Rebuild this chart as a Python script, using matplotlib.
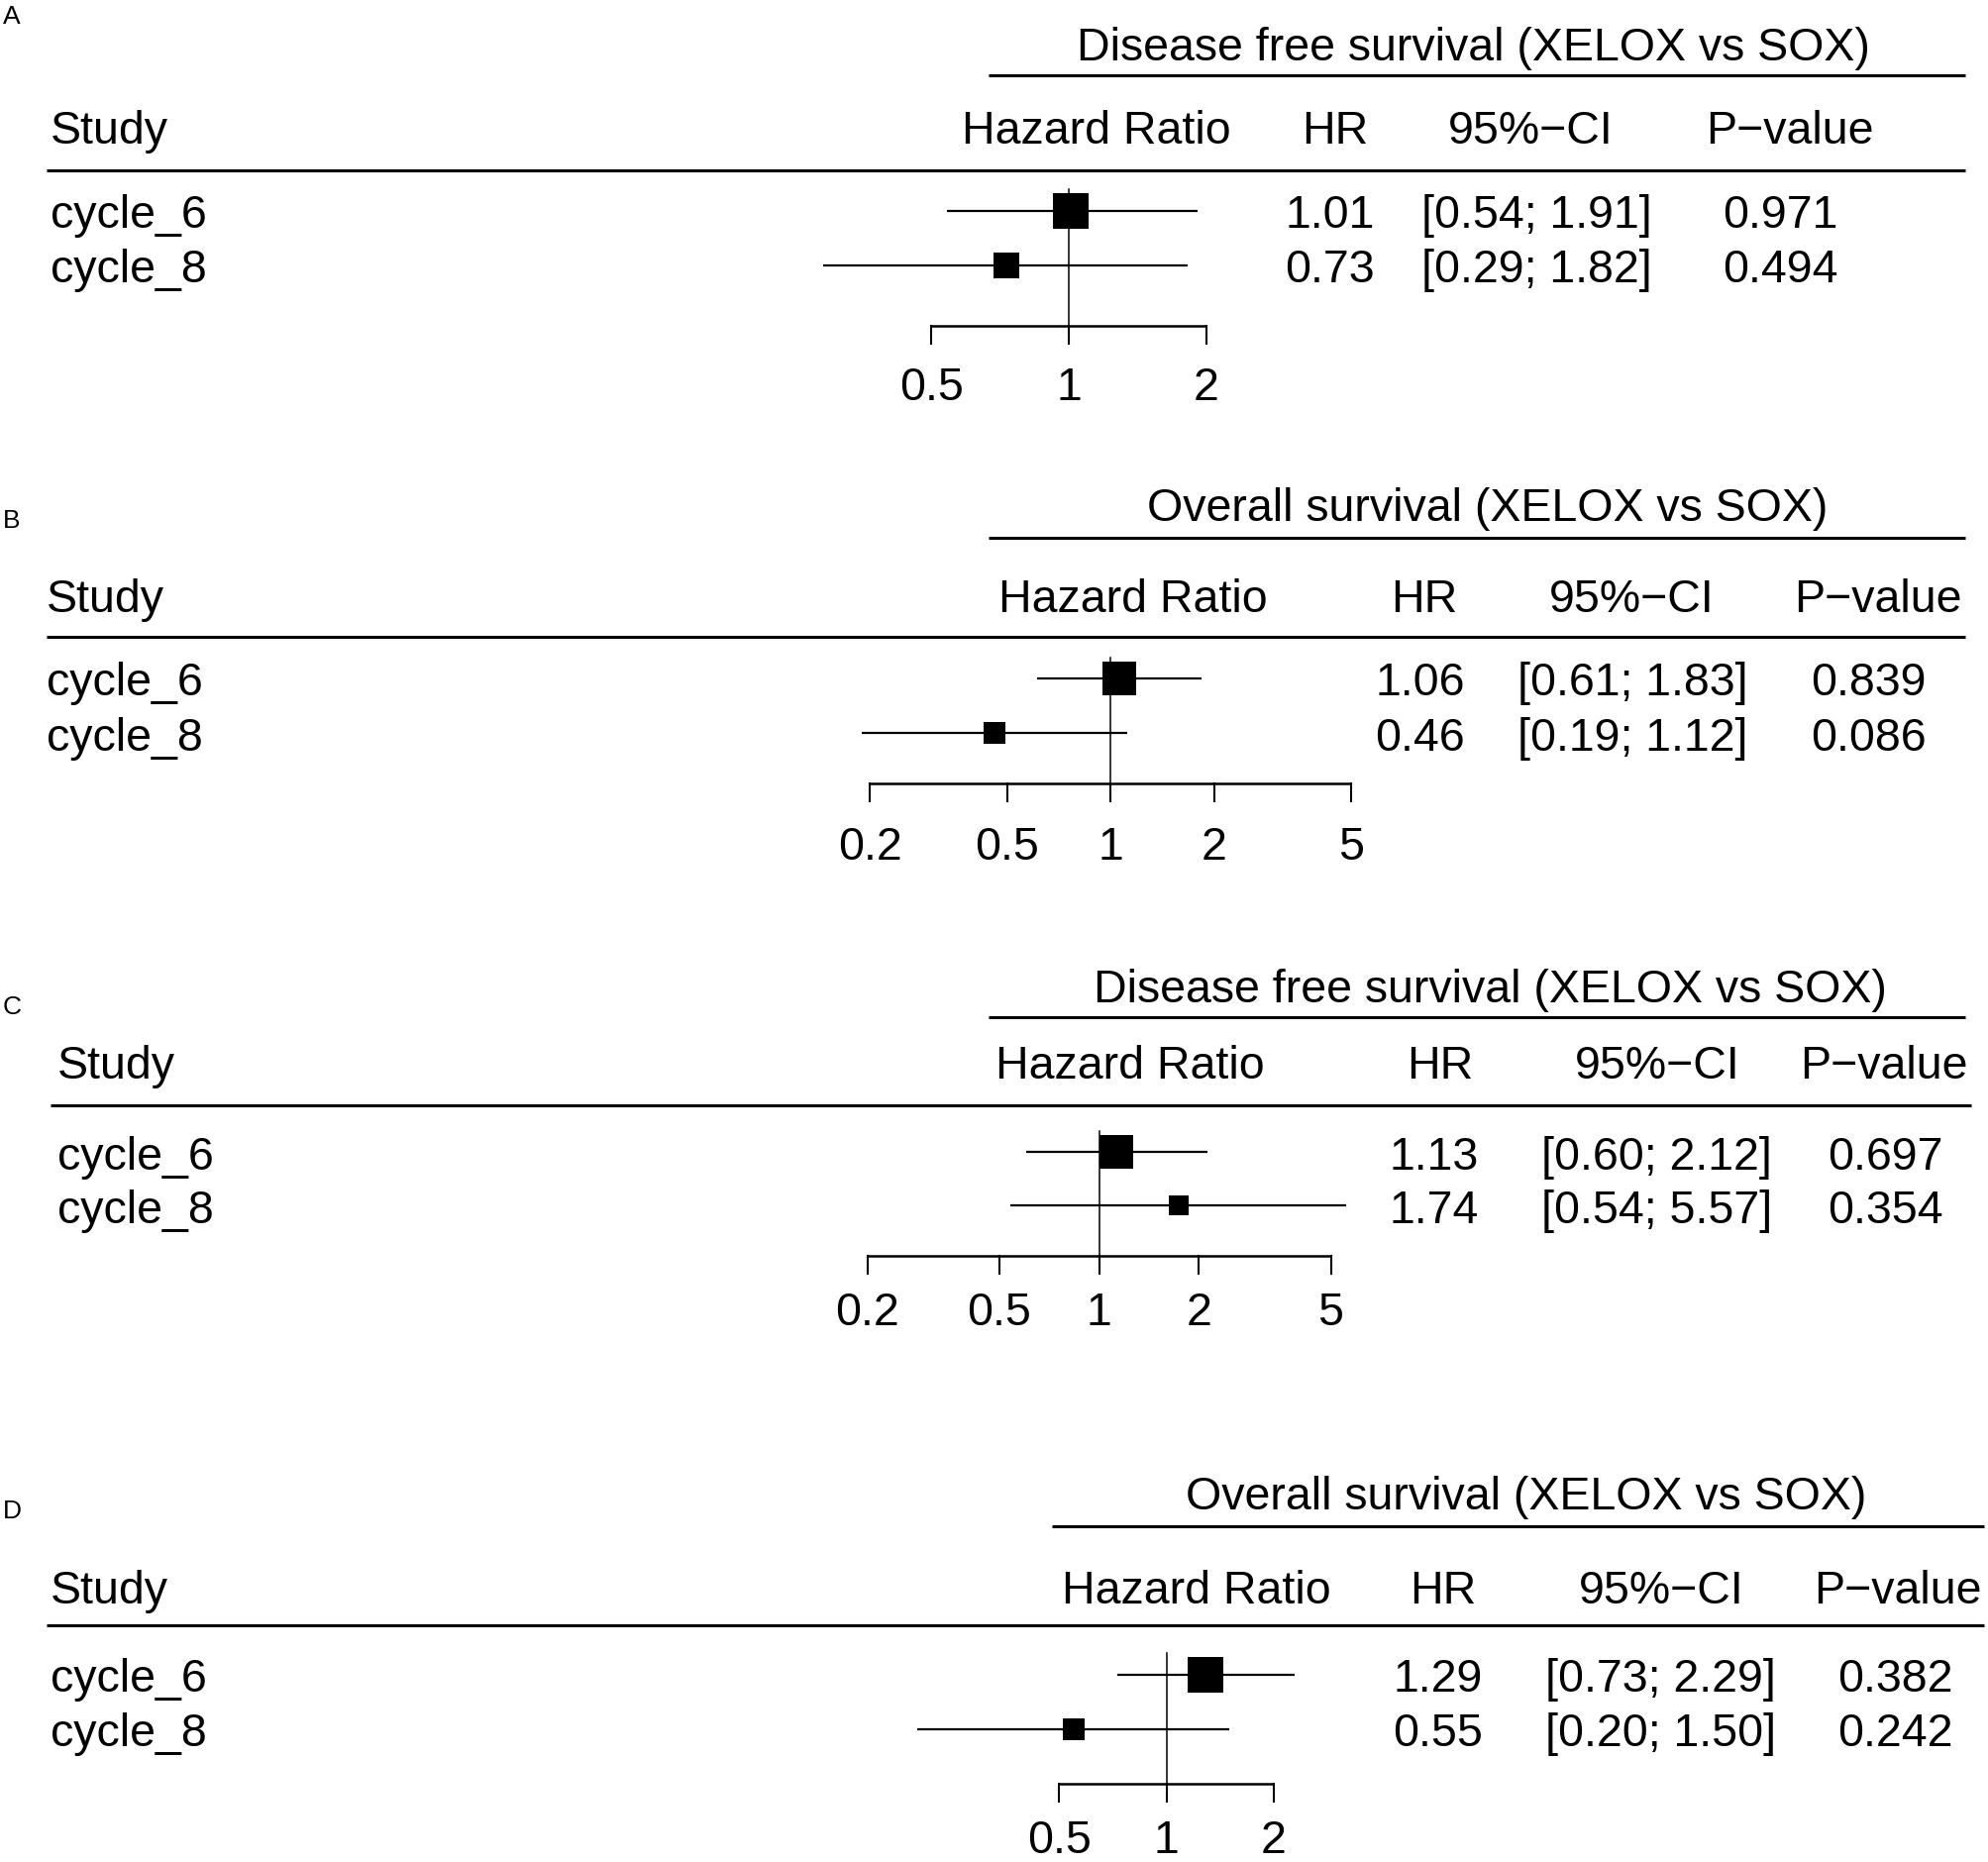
import numpy as np
import matplotlib
matplotlib.use("Agg")
import matplotlib.pyplot as plt

plt.rcParams['font.family'] = ['Liberation Sans', 'DejaVu Sans']

# ---------------- data ----------------
panel_labels = ["A", "B", "C", "D"]
titles = ["Disease free survival (XELOX vs SOX)",
          "Overall survival (XELOX vs SOX)",
          "Disease free survival (XELOX vs SOX)",
          "Overall survival (XELOX vs SOX)"]
studies = ["cycle_6", "cycle_8"]

hr_A = [1.01, 0.73]
lo_A = [0.54, 0.29]
hi_A = [1.91, 1.82]
p_A = ["0.971", "0.494"]

hr_B = [1.06, 0.46]
lo_B = [0.61, 0.19]
hi_B = [1.83, 1.12]
p_B = ["0.839", "0.086"]

hr_C = [1.13, 1.74]
lo_C = [0.60, 0.54]
hi_C = [2.12, 5.57]
p_C = ["0.697", "0.354"]

hr_D = [1.29, 0.55]
lo_D = [0.73, 0.20]
hi_D = [2.29, 1.50]
p_D = ["0.382", "0.242"]

ticks_A = [0.5, 1, 2]
ticks_B = [0.2, 0.5, 1, 2, 5]
ticks_C = [0.2, 0.5, 1, 2, 5]
ticks_D = [0.5, 1, 2]
tick_labels_A = ["0.5", "1", "2"]
tick_labels_B = ["0.2", "0.5", "1", "2", "5"]
tick_labels_C = ["0.2", "0.5", "1", "2", "5"]
tick_labels_D = ["0.5", "1", "2"]

headers = ["Study", "Hazard Ratio", "HR", "95%\u2212CI", "P\u2212value"]

# ---------------- layout (reference display units 1568 x 1470) ----------------
W, H = 1568.0, 1470.0
def fx(x):
    return x / W
def fy(y):
    return 1.0 - y / H

FS = 33.5
CAP = 13  # half cap height in display units

layout = [
    dict(label_base=18.8, title_x=1162, title_y=35, tline=(780, 1550, 60),
         head_y=100, study_x=40, hr_hx=865, hrc_h=1053, ci_h=1207, p_h=1412,
         hrc_v=1049, ci_v=1212, p_v=1404, hline=(37, 1550, 135),
         rows=(167, 210), xref=843, k=156.5, axis_y=258, tlab_y=303, vtop=150,
         sq=(28, 20)),
    dict(label_base=416.5, title_x=1173, title_y=398, tline=(780, 1550, 425),
         head_y=470, study_x=37, hr_hx=894, hrc_h=1123, ci_h=1287, p_h=1481,
         hrc_v=1120, ci_v=1288, p_v=1474, hline=(37, 1550, 503),
         rows=(536, 579), xref=876, k=118.0, axis_y=619, tlab_y=665, vtop=520,
         sq=(27, 17)),
    dict(label_base=800, title_x=1175, title_y=778, tline=(780, 1550, 803),
         head_y=838, study_x=45, hr_hx=891, hrc_h=1136, ci_h=1307, p_h=1486,
         hrc_v=1131, ci_v=1307, p_v=1487, hline=(40, 1555, 873),
         rows=(910, 952), xref=867, k=113.5, axis_y=992, tlab_y=1033, vtop=893,
         sq=(27, 16)),
    dict(label_base=1198, title_x=1204, title_y=1178, tline=(830, 1565, 1205),
         head_y=1252, study_x=40, hr_hx=944, hrc_h=1138, ci_h=1310, p_h=1497,
         hrc_v=1134, ci_v=1310, p_v=1495, hline=(37, 1565, 1283),
         rows=(1322, 1365), xref=920, k=122.0, axis_y=1408, tlab_y=1449, vtop=1305,
         sq=(28, 17)),
]

panels = [
    (hr_A, lo_A, hi_A, p_A, ticks_A, tick_labels_A),
    (hr_B, lo_B, hi_B, p_B, ticks_B, tick_labels_B),
    (hr_C, lo_C, hi_C, p_C, ticks_C, tick_labels_C),
    (hr_D, lo_D, hi_D, p_D, ticks_D, tick_labels_D),
]

fig = plt.figure(figsize=(20.07, 18.81), dpi=100)
bg = fig.add_axes([0, 0, 1, 1])
bg.set_xlim(0, W)
bg.set_ylim(H, 0)
bg.axis('off')

def txt(x, y, s, ha='center', size=FS):
    bg.text(x, y + CAP, s, ha=ha, va='baseline', fontsize=size, color='black')

TICK = 14
for (hr, lo, hi, pv, ticks, tlabs), L, plab, title in zip(panels, layout, panel_labels, titles):
    # panel label
    bg.text(2.0, L['label_base'], plab, ha='left', va='baseline', fontsize=19)
    # title and rule
    txt(L['title_x'], L['title_y'], title)
    x0, x1, yl = L['tline']
    bg.plot([x0, x1], [yl, yl], color='black', lw=2.2, solid_capstyle='butt')
    # headers
    txt(L['study_x'], L['head_y'], headers[0], ha='left')
    txt(L['hr_hx'], L['head_y'], headers[1])
    txt(L['hrc_h'], L['head_y'], headers[2])
    txt(L['ci_h'], L['head_y'], headers[3])
    txt(L['p_h'], L['head_y'], headers[4])
    x0, x1, yl = L['hline']
    bg.plot([x0, x1], [yl, yl], color='black', lw=2.2, solid_capstyle='butt')
    # rows text
    for i, name in enumerate(studies):
        y = L['rows'][i]
        txt(L['study_x'], y, name, ha='left')
        txt(L['hrc_v'], y, f"{hr[i]:.2f}")
        txt(L['ci_v'], y, f"[{lo[i]:.2f}; {hi[i]:.2f}]")
        txt(L['p_v'], y, pv[i])

    # forest axes
    X0, X1 = 560.0, 1120.0
    Y0 = L['vtop'] - 40
    Y1 = L['axis_y'] + 60
    ax = fig.add_axes([fx(X0), fy(Y1), fx(X1) - fx(X0), fy(Y0) - fy(Y1)])
    ax.set_xscale('log')
    ax.set_xlim(np.exp((X0 - L['xref']) / L['k']), np.exp((X1 - L['xref']) / L['k']))
    ax.set_ylim(Y1, Y0)
    ax.axis('off')
    ax.patch.set_alpha(0)
    ay = L['axis_y']
    # reference line
    ax.plot([1, 1], [L['vtop'], ay + TICK], color='black', lw=1.1)
    # CIs and squares
    for i in range(len(hr)):
        y = L['rows'][i]
        ax.plot([lo[i], hi[i]], [y, y], color='black', lw=1.6, solid_capstyle='butt')
        side = L['sq'][i] * 1.28 * 0.72
        ax.plot([hr[i]], [y], marker='s', ms=side, color='black', mew=0)
    # axis
    ax.plot([ticks[0], ticks[-1]], [ay, ay], color='black', lw=1.8, solid_capstyle='butt')
    for t in ticks:
        ax.plot([t, t], [ay, ay + TICK], color='black', lw=1.5)
    # tick labels
    for t, tl in zip(ticks, tlabs):
        xp = L['xref'] + L['k'] * np.log(t)
        txt(xp, L['tlab_y'], tl)

fig.savefig("out.png", dpi=100)
